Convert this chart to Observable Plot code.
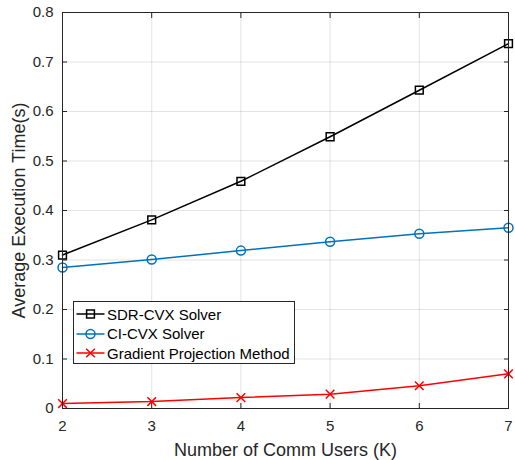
<!DOCTYPE html>
<html><head><meta charset="utf-8">
<script src="https://cdn.jsdelivr.net/npm/d3@7"></script>
<script src="https://cdn.jsdelivr.net/npm/@observablehq/plot@0.6"></script>
<style>
body{margin:0;background:#fff;font-family:"Liberation Sans",Arial,sans-serif;}
#wrap{position:relative;width:515px;height:460px;}
#legend{position:absolute;left:73px;top:301px;width:222px;height:63px;border:1px solid #262626;background:#fff;box-sizing:border-box;}
.row{position:absolute;left:2px;height:20px;display:flex;align-items:center;font-size:15px;color:#000;white-space:nowrap;}
.row svg{margin-right:2px;}
g[aria-label="x-axis tick label"], g[aria-label="y-axis tick label"],
g[aria-label="x-axis tick label"] text, g[aria-label="y-axis tick label"] text {font-size:15px !important;}
g[aria-label="x-axis label"], g[aria-label="y-axis label"],
g[aria-label="x-axis label"] text, g[aria-label="y-axis label"] text {font-size:18px !important;}
</style>
</head><body>
<div id="wrap"><div id="legend"></div></div>
<script>
const users = [2, 3, 4, 5, 6, 7];
const sdrCvx = [0.310, 0.381, 0.459, 0.549, 0.643, 0.737];
const ciCvx = [0.285, 0.301, 0.319, 0.337, 0.353, 0.365];
const gradProj = [0.010, 0.014, 0.022, 0.029, 0.046, 0.070];
const seriesNames = ["SDR-CVX Solver", "CI-CVX Solver", "Gradient Projection Method"];
const seriesColors = ["#000000", "#0072BD", "#FF0000"];
const seriesSymbols = ["square", "circle", "times"];
const xTicks = [2, 3, 4, 5, 6, 7];
const yTicks = [0, 0.1, 0.2, 0.3, 0.4, 0.5, 0.6, 0.7, 0.8];

const seriesValues = [sdrCvx, ciCvx, gradProj];
const markerR = [4.4, 4.5, 4];
const rows = [];
seriesValues.forEach((vals, s) => vals.forEach((v, i) => rows.push({s, x: users[i], y: v})));

const ink = "#262626";
const marks = [
  Plot.gridX(xTicks, {stroke: ink, strokeOpacity: 0.13}),
  Plot.gridY(yTicks, {stroke: ink, strokeOpacity: 0.13}),
];
seriesValues.forEach((vals, s) => {
  const d = rows.filter(r => r.s === s);
  marks.push(Plot.line(d, {x: "x", y: "y", stroke: seriesColors[s], strokeWidth: 1.5}));
  marks.push(Plot.dot(d, {x: "x", y: "y", stroke: seriesColors[s], fill: "none", strokeWidth: 1.5,
    symbol: seriesSymbols[s], r: markerR[s]}));
});
marks.push(
  Plot.axisX(xTicks, {anchor: "bottom", tickSize: -5, tickPadding: 17, color: ink, fontSize: 15,
    label: "Number of Comm Users (K)", labelAnchor: "center", labelOffset: 47, labelArrow: "none"}),
  Plot.axisX(xTicks, {anchor: "top", tickSize: -5, tickFormat: () => "", color: ink, label: null}),
  Plot.axisY(yTicks, {anchor: "left", tickSize: -5, tickPadding: 14, color: ink, fontSize: 15,
    tickFormat: d => String(d), label: "Average Execution Time(s)", labelAnchor: "center", labelOffset: 50, labelArrow: "none"}),
  Plot.axisY(yTicks, {anchor: "right", tickSize: -5, tickFormat: () => "", color: ink, label: null}),
  Plot.frame({stroke: ink})
);

const chart = Plot.plot({
  width: 515, height: 460,
  marginLeft: 62, marginRight: 7, marginTop: 12, marginBottom: 52,
  style: {fontFamily: '"Liberation Sans", Arial, sans-serif', fontSize: "15px", color: ink, background: "#fff"},
  x: {domain: [2, 7]},
  y: {domain: [0, 0.8]},
  marks
});
document.getElementById("wrap").prepend(chart);

const legend = document.getElementById("legend");
seriesNames.forEach((name, s) => {
  const row = document.createElement("div");
  row.className = "row";
  row.style.top = (2 + s * 19.7) + "px";
  const ns = "http://www.w3.org/2000/svg";
  const svg = document.createElementNS(ns, "svg");
  svg.setAttribute("width", 29); svg.setAttribute("height", 20);
  const ln = document.createElementNS(ns, "line");
  ln.setAttribute("x1", 0.5); ln.setAttribute("x2", 28.5); ln.setAttribute("y1", 10); ln.setAttribute("y2", 10);
  ln.setAttribute("stroke", seriesColors[s]); ln.setAttribute("stroke-width", 1.5);
  svg.appendChild(ln);
  const g = document.createElementNS(ns, "path");
  const sym = {square: d3.symbolSquare, circle: d3.symbolCircle, times: d3.symbolTimes}[seriesSymbols[s]];
  const r = markerR[s];
  g.setAttribute("d", d3.symbol(sym, Math.PI * r * r)());
  g.setAttribute("transform", "translate(14.5,10)");
  g.setAttribute("fill", "none"); g.setAttribute("stroke", seriesColors[s]); g.setAttribute("stroke-width", 1.5);
  svg.appendChild(g);
  row.appendChild(svg);
  const t = document.createElement("span");
  t.textContent = name;
  row.appendChild(t);
  legend.appendChild(row);
});
</script>
</body></html>
